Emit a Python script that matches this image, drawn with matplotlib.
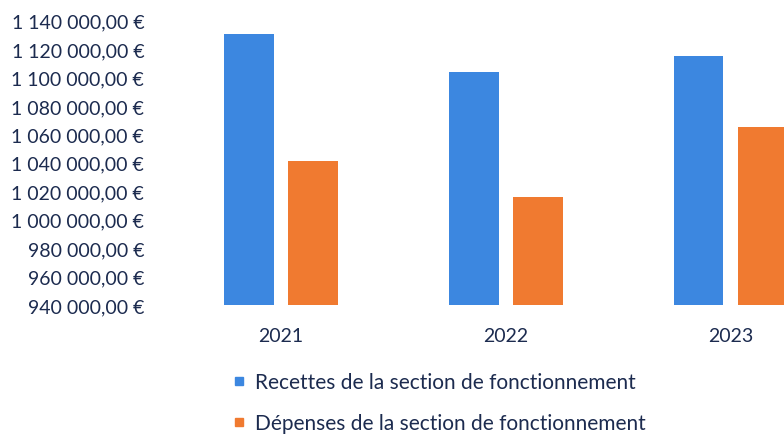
import matplotlib.pyplot as plt
import numpy as np
from matplotlib.lines import Line2D
from matplotlib.ticker import FuncFormatter, MultipleLocator

plt.rcParams['font.family'] = ['Lato', 'DejaVu Sans']

years = ['2021', '2022', '2023']
recettes = [1130700, 1104000, 1115300]
depenses = [1041600, 1015700, 1065500]
labels = ['Recettes de la section de fonctionnement',
          'Dépenses de la section de fonctionnement']

text_col = '#1c2b4f'
blue = '#3c87e0'
orange = '#f07a30'


def euro(v, pos):
    s = f'{v:,.2f}'.replace(',', ' ').replace('.', ',')
    return s + ' €'


fig = plt.figure(figsize=(7.84, 4.35), dpi=100)
ax = fig.add_axes([168.5 / 784, (435 - 306) / 435, 1 - 168.5 / 784, 306 / 435])

x = np.arange(len(years))
w = 0.22
ax.bar(x - 0.143, recettes, w, color=blue, label=labels[0])
ax.bar(x + 0.143, depenses, w, color=orange, label=labels[1])

ax.set_ylim(940000, 1155200)
ax.set_xlim(-0.5, 2.236)
ax.yaxis.set_major_locator(MultipleLocator(20000))
ax.yaxis.set_major_formatter(FuncFormatter(euro))
ax.set_xticks(x)
ax.set_xticklabels(years)
ax.tick_params(axis='y', length=0, pad=17.5, labelsize=14, labelcolor=text_col)
ax.tick_params(axis='x', length=0, pad=16, labelsize=14, labelcolor=text_col)
for s in ax.spines.values():
    s.set_visible(False)

# petits carrés comme dans la légende d'origine
handles = [Line2D([], [], marker='s', linestyle='none', markersize=5.5, color=c)
           for c in (blue, orange)]
fig.legend(handles=handles, labels=labels, loc='upper left',
           bbox_to_anchor=(233 / 784, 1 - 373 / 435), frameon=False,
           fontsize=15, labelcolor=text_col, handlelength=0.6,
           handletextpad=0.45, labelspacing=1.0,
           borderpad=0, borderaxespad=0)

fig.savefig('out.png', dpi=100)
